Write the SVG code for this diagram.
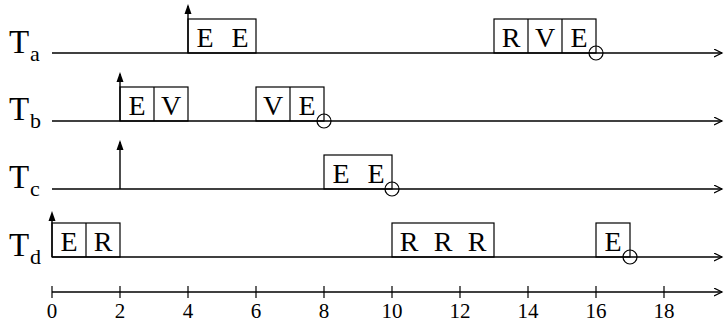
<svg xmlns="http://www.w3.org/2000/svg" width="724" height="324" viewBox="0 0 724 324" font-family="'Liberation Serif', serif">
<defs>
<marker id="open" markerWidth="10" markerHeight="10" refX="8" refY="4" orient="auto" markerUnits="userSpaceOnUse">
<path d="M0,0 L8,4 L0,8" fill="none" stroke="#000" stroke-width="1.2"/>
</marker>
<style>
.tl{stroke:#000;stroke-width:1.4;fill:none}
.bx{stroke:#000;stroke-width:1.2;fill:none}
.rel{stroke:#000;stroke-width:1.4;fill:none}
.dl{stroke:#000;stroke-width:1.2;fill:none}
.t{font-family:"Liberation Serif",serif;font-size:33px;fill:#000}
.s{font-family:"Liberation Serif",serif;font-size:22px;fill:#000}
.l{font-family:"Liberation Serif",serif;font-size:28px;fill:#000;text-anchor:middle}
.n{font-family:"Liberation Serif",serif;font-size:21px;fill:#000;text-anchor:middle}
</style>
</defs>
<g id="connectors">
<line class="tl" x1="52" y1="53" x2="722" y2="53" marker-end="url(#open)"/>
<line class="tl" x1="52" y1="121" x2="722" y2="121" marker-end="url(#open)"/>
<line class="tl" x1="52" y1="189" x2="722" y2="189" marker-end="url(#open)"/>
<line class="tl" x1="52" y1="257" x2="722" y2="257" marker-end="url(#open)"/>
<line class="tl" x1="52" y1="292" x2="722" y2="292" marker-end="url(#open)"/>
<path d="M188,53 V6" class="rel"/><path d="M184.5,14 L188,4 L191.5,14 Z"/>
<path d="M120,121 V74" class="rel"/><path d="M116.5,82 L120,72 L123.5,82 Z"/>
<path d="M120,189 V142" class="rel"/><path d="M116.5,150 L120,140 L123.5,150 Z"/>
<path d="M52,257 V214" class="rel"/><path d="M48.5,221 L52,211 L55.5,221 Z"/>
</g>
<g id="Ta">
<text class="t" x="9" y="53">T</text><text class="s" x="30" y="61">a</text>
<rect class="bx" x="188" y="19" width="68" height="34"/>
<text class="l" x="205" y="47">E</text><text class="l" x="240" y="47">E</text>
<rect class="bx" x="494" y="19" width="102" height="34"/>
<line class="dl" x1="528" y1="19" x2="528" y2="53"/><line class="dl" x1="562" y1="19" x2="562" y2="53"/>
<text class="l" x="511" y="47">R</text><text class="l" x="545" y="47">V</text><text class="l" x="579" y="47">E</text>
<circle class="bx" cx="596" cy="53" r="7"/>
</g>
<g id="Tb">
<text class="t" x="9" y="120">T</text><text class="s" x="30" y="128">b</text>
<rect class="bx" x="120" y="87" width="68" height="34"/>
<line class="dl" x1="154" y1="87" x2="154" y2="121"/>
<text class="l" x="137" y="115">E</text><text class="l" x="171" y="115">V</text>
<rect class="bx" x="256" y="87" width="68" height="34"/>
<line class="dl" x1="290" y1="87" x2="290" y2="121"/>
<text class="l" x="273" y="115">V</text><text class="l" x="307" y="115">E</text>
<circle class="bx" cx="324" cy="121" r="7"/>
</g>
<g id="Tc">
<text class="t" x="9" y="188">T</text><text class="s" x="30" y="196">c</text>
<rect class="bx" x="324" y="155" width="68" height="34"/>
<text class="l" x="341" y="183">E</text><text class="l" x="376" y="183">E</text>
<circle class="bx" cx="392" cy="189" r="7"/>
</g>
<g id="Td">
<text class="t" x="9" y="256">T</text><text class="s" x="30" y="264">d</text>
<rect class="bx" x="52" y="223" width="68" height="34"/>
<line class="dl" x1="86" y1="223" x2="86" y2="257"/>
<text class="l" x="69" y="251">E</text><text class="l" x="103" y="251">R</text>
<rect class="bx" x="392" y="223" width="102" height="34"/>
<text class="l" x="409" y="251">R</text><text class="l" x="443" y="251">R</text><text class="l" x="477" y="251">R</text>
<rect class="bx" x="596" y="223" width="34" height="34"/>
<text class="l" x="613" y="251">E</text>
<circle class="bx" cx="630" cy="257" r="7"/>
</g>
<g id="axis">
<g class="dl">
<line x1="52" y1="286" x2="52" y2="298"/><line x1="120" y1="286" x2="120" y2="298"/>
<line x1="188" y1="286" x2="188" y2="298"/><line x1="256" y1="286" x2="256" y2="298"/>
<line x1="324" y1="286" x2="324" y2="298"/><line x1="392" y1="286" x2="392" y2="298"/>
<line x1="460" y1="286" x2="460" y2="298"/><line x1="528" y1="286" x2="528" y2="298"/>
<line x1="596" y1="286" x2="596" y2="298"/><line x1="664" y1="286" x2="664" y2="298"/>
</g>
<text class="n" x="52" y="318">0</text><text class="n" x="120" y="318">2</text>
<text class="n" x="188" y="318">4</text><text class="n" x="256" y="318">6</text>
<text class="n" x="324" y="318">8</text><text class="n" x="392" y="318">10</text>
<text class="n" x="460" y="318">12</text><text class="n" x="528" y="318">14</text>
<text class="n" x="596" y="318">16</text><text class="n" x="664" y="318">18</text>
</g>
</svg>
